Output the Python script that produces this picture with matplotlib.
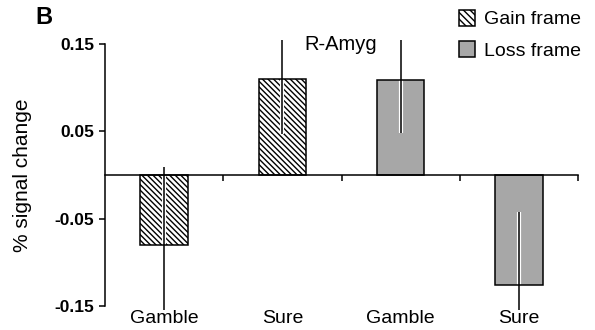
import numpy as np
import matplotlib
matplotlib.use("Agg")
import matplotlib.pyplot as plt
import matplotlib.patheffects as pe
from matplotlib.patches import Patch
import matplotlib.transforms as mtrans

plt.rcParams['font.family'] = ['Liberation Sans', 'DejaVu Sans']
plt.rcParams['hatch.linewidth'] = 1.0

categories = ['Gamble', 'Sure', 'Gamble', 'Sure']
gain_values = [-0.080, 0.110]
gain_errors = [0.089, 0.063]
loss_values = [0.109, -0.126]
loss_errors = [0.061, 0.083]
yticks = [-0.15, -0.05, 0.05, 0.15]
ytick_labels = ['-0.15', '-0.05', '0.05', '0.15']
title = 'R-Amyg'
panel = 'B'
ylabel = '% signal change'
legend_labels = ['Gain frame', 'Loss frame']

fig = plt.figure(figsize=(5.95, 3.30), dpi=100)
ax = fig.add_axes([105/595, 1-310/330, 473/595, 270/330])

x = np.arange(len(categories))
gx = x[:2]
lx = x[2:]
w = 0.4
lw = 1.1
gray = '#a7a7a7'
hatch = '\\' * 6

# fills
ax.bar(gx, gain_values, width=w, color='white', edgecolor='black', hatch=hatch, linewidth=0, zorder=1)
ax.bar(lx, loss_values, width=w, color=gray, edgecolor='none', linewidth=0, zorder=1)

# error bars with white halo
halo = [pe.Stroke(linewidth=3.0, foreground='white'), pe.Normal()]
for xs, vals, errs in ((gx, gain_values, gain_errors), (lx, loss_values, loss_errors)):
    for xi, v, e in zip(xs, vals, errs):
        ln, = ax.plot([xi, xi], [v - e, v + e], color='black', lw=1.1, zorder=2,
                      solid_capstyle='butt')
        ln.set_path_effects(halo)

# edges on top
ax.bar(gx, gain_values, width=w, fill=False, edgecolor='black', linewidth=lw, zorder=3)
ax.bar(lx, loss_values, width=w, fill=False, edgecolor='black', linewidth=lw, zorder=3)

ax.set_xlim(-0.5, 3.5)
ax.set_ylim(-0.155, 0.155)

for s in ('top', 'right'):
    ax.spines[s].set_visible(False)
ax.spines['bottom'].set_position(('data', 0))
ax.spines['left'].set_bounds(-0.15, 0.15)
for s in ('left', 'bottom'):
    ax.spines[s].set_linewidth(lw)
    ax.spines[s].set_zorder(4)

ax.set_yticks(yticks)
ax.set_yticklabels(ytick_labels, fontsize=12.5, fontweight='bold')
ax.tick_params(axis='y', direction='out', length=4, width=lw, pad=4)
ax.set_xticks(x + 0.5)
ax.set_xticklabels([])
ax.tick_params(axis='x', direction='out', length=4.5, width=lw)

trans = mtrans.blended_transform_factory(ax.transData, ax.transAxes)
for xi, lab in zip(x, categories):
    ax.text(xi, -0.03, lab, transform=trans, ha='center', va='center', fontsize=14)

ax.set_ylabel(ylabel, fontsize=15)
ax.yaxis.set_label_coords(-0.155, 0.5)

fig.text(341/595, 1-45/330, title, ha='center', va='center', fontsize=14.5)
fig.text(44/595, 1-18/330, panel, ha='center', va='center', fontsize=17, fontweight='bold')

handles = [Patch(facecolor='white', edgecolor='black', hatch='\\' * 5, linewidth=lw),
           Patch(facecolor=gray, edgecolor='black', linewidth=lw)]
fig.legend(handles, legend_labels, loc='upper right', bbox_to_anchor=(581/595, 1-10/330),
           frameon=False, fontsize=14, handlelength=0.85, handleheight=0.85,
           handletextpad=0.45, labelspacing=0.65, borderpad=0, borderaxespad=0)

fig.savefig('out.png', dpi=100)
